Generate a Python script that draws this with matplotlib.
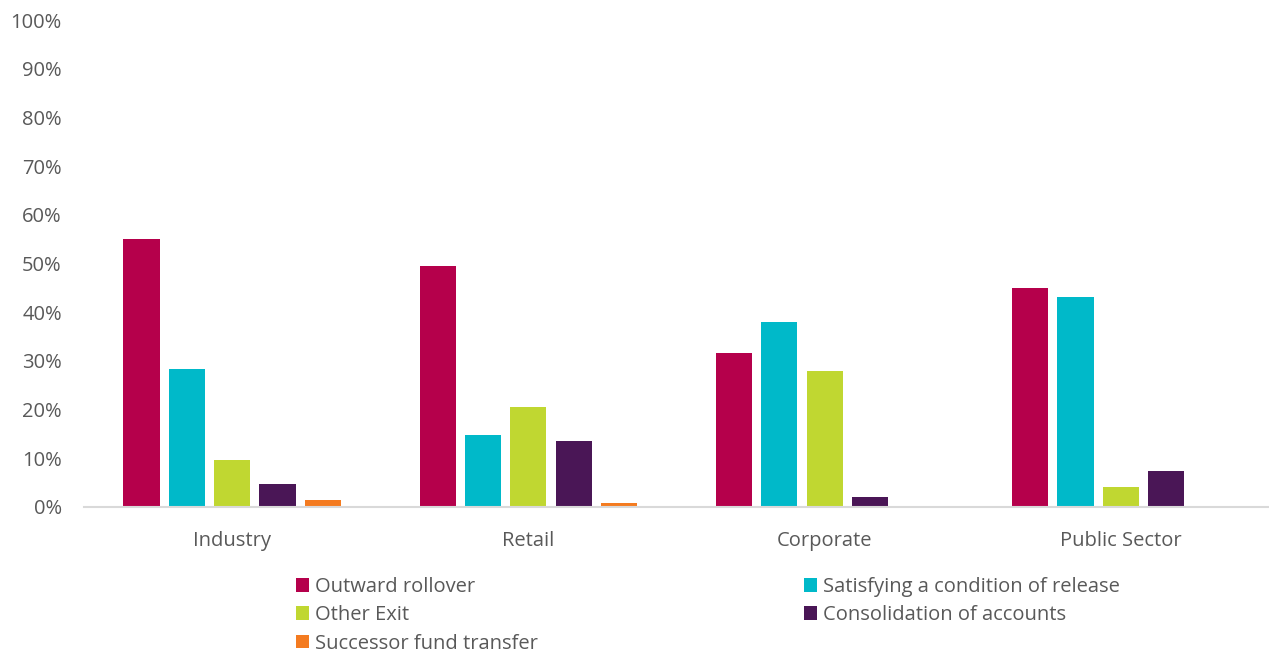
import numpy as np
import matplotlib.pyplot as plt
from matplotlib.ticker import PercentFormatter
from matplotlib.patches import Patch

plt.rcParams['font.family'] = ['Open Sans', 'DejaVu Sans']

# Data
sectors = ["Industry", "Retail", "Corporate", "Public Sector"]
series_names = [
    "Outward rollover",
    "Satisfying a condition of release",
    "Other Exit",
    "Consolidation of accounts",
    "Successor fund transfer",
]
outward_rollover = [55.1, 49.4, 31.7, 44.9]
satisfying_release = [28.4, 14.8, 37.9, 43.2]
other_exit = [9.7, 20.6, 28.0, 4.1]
consolidation = [4.7, 13.6, 2.1, 7.4]
successor_transfer = [1.4, 0.8, 0.0, 0.0]

colors = ["#B5004B", "#00B9C9", "#C0D731", "#4A1656", "#F47B20"]
values = [outward_rollover, satisfying_release, other_exit, consolidation, successor_transfer]

fig = plt.figure(figsize=(12.69, 6.53), dpi=100)
ax = fig.add_axes([84 / 1269, 1 - 507 / 653, 1 - 84 / 1269, (507 - 20) / 653])

x = np.arange(len(sectors))
slot = 0.153
width = 0.122

handles = []
for i, (name, vals, c) in enumerate(zip(series_names, values, colors)):
    offset = (i - 2) * slot
    ax.bar(x + offset, np.array(vals) / 100, width, color=c, label=name)
    handles.append(Patch(facecolor=c, label=name))

ax.set_xlim(-0.5, len(sectors) - 0.5)
ax.set_ylim(0, 1)
ax.set_yticks(np.arange(0, 1.01, 0.1))
ax.yaxis.set_major_formatter(PercentFormatter(1.0, decimals=0))
ax.set_xticks(x)
ax.set_xticklabels(sectors)

for s in ["top", "right", "left"]:
    ax.spines[s].set_visible(False)
ax.spines["bottom"].set_color("#D9D9D9")
ax.spines["bottom"].set_linewidth(1.5)
ax.tick_params(axis="both", length=0, labelsize=14.5, labelcolor="#595959")
ax.tick_params(axis="x", pad=17)
ax.tick_params(axis="y", pad=16)

# Legend, filled row by row in two columns
order = [0, 2, 4, 1, 3]
fig.legend(
    [handles[i] for i in order],
    [series_names[i] for i in order],
    loc="upper left",
    bbox_to_anchor=(296 / 1269, 1 - 577 / 653),
    ncol=2,
    frameon=False,
    fontsize=14.5,
    labelcolor="#595959",
    handlelength=0.65,
    handleheight=0.65,
    handletextpad=0.3,
    columnspacing=13.2,
    labelspacing=0.41,
    borderaxespad=0,
    borderpad=0,
)

fig.savefig("out.png", dpi=100)
